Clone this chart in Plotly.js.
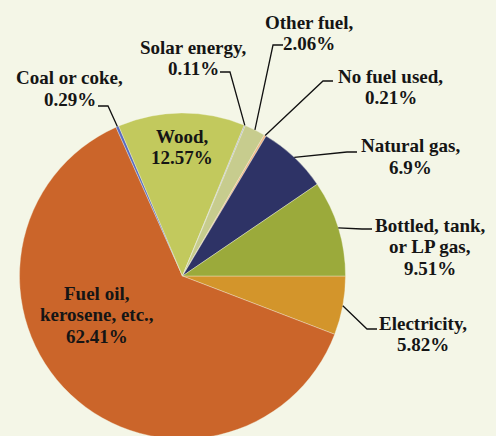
<!DOCTYPE html>
<html>
<head>
<meta charset="utf-8">
<script src="https://cdn.plot.ly/plotly-3.0.1.min.js"></script>
<style>
html,body{margin:0;padding:0;overflow:hidden;background:#F4F6E7;width:496px;height:436px;font-family:'Liberation Serif',serif;font-weight:bold;}
#chart{position:absolute;left:0;top:0;width:496px;height:446px;z-index:2;}
#chart .annotation-text{font-family:'Liberation Serif',serif !important;font-weight:bold !important;}
#fx{position:absolute;left:4px;top:410px;z-index:1;font-family:'Liberation Serif',serif;font-weight:bold;font-size:19px;color:#F4F6E7;line-height:1;}
</style>
</head>
<body>
<div id="fx">Wood, 0123456789%</div>
<div id="chart"></div>
<script>
// ---- data (slices in clockwise order from 3 o'clock) ----
const categories = ['Electricity', 'Fuel oil, kerosene, etc.', 'Coal or coke', 'Wood', 'Solar energy', 'Other fuel', 'No fuel used', 'Natural gas', 'Bottled, tank, or LP gas'];
const labelLines = [['Electricity,'], ['Fuel oil,', 'kerosene, etc.,'], ['Coal or coke,'], ['Wood,'], ['Solar energy,'], ['Other fuel,'], ['No fuel used,'], ['Natural gas,'], ['Bottled, tank,', 'or LP gas,']];
const shares = [5.82, 62.41, 0.29, 12.57, 0.11, 2.06, 0.21, 6.9, 9.51];
const sliceColors = ['#D3952B', '#CB652A', '#5A6BC0', '#C2C95D', '#A3A6C4', '#C7CC8E', '#F2B684', '#2E3366', '#9BAA3B'];

// ---- layout geometry (pixels) ----
const W = 496, H = 446;
const M = {l: 0, r: 0, t: 113, b: 7};
const R = (H - M.t - M.b) / 2;
const CX = 182.5;
const CY = M.t + R;
const LH = 21.5;
// label placement: x centre, y of first line, leader elbow and end
const place = [
  {tx: 423, ty: 323, elbow: [367, 329], end: [377, 329]},
  {tx: 97, ty: 293, inside: true},
  {tx: 69.5, ty: 78, elbow: [108, 106], end: [98, 106]},
  {tx: 182, ty: 136, inside: true},
  {tx: 193.5, ty: 47, elbow: [230, 72], end: [220, 72]},
  {tx: 309, ty: 22, elbow: [273, 45], end: [283, 45]},
  {tx: 390.5, ty: 76, elbow: [323, 81], end: [333, 81]},
  {tx: 410, ty: 145.5, elbow: [347, 152], end: [357, 152]},
  {tx: 430, ty: 225, elbow: [362, 229], end: [372, 229]}
];
const FONT = {family: 'Liberation Serif', size: 19, color: '#151515', weight: 'bold'};

const px2x = p => p / W;
const py2y = p => (H - M.b - p) / (H - M.t - M.b);

const total = shares.reduce((a, b) => a + b, 0);
let cum = 0;
const annotations = [];
const shapes = [];
shares.forEach((v, i) => {
  const mid = (cum + v / 2) / total * 2 * Math.PI; // clockwise from 3 o'clock
  cum += v;
  const p = place[i];
  const lines = labelLines[i].concat([v + '%']);
  lines.forEach((ln, k) => {
    annotations.push({
      xref: 'paper', yref: 'paper', x: px2x(p.tx), y: py2y(p.ty + k * LH),
      xanchor: 'center', yanchor: 'middle', showarrow: false,
      text: ln, font: FONT
    });
  });
  if (!p.inside) {
    const sx = CX + R * Math.cos(mid), sy = CY + R * Math.sin(mid);
    const path = 'M' + px2x(sx) + ',' + py2y(sy) + ' L' + px2x(p.elbow[0]) + ',' + py2y(p.elbow[1]) + ' L' + px2x(p.end[0]) + ',' + py2y(p.end[1]);
    shapes.push({type: 'path', xref: 'paper', yref: 'paper', path: path, line: {color: '#111111', width: 1.3}, layer: 'above'});
  }
});

const trace = {
  type: 'pie',
  labels: categories,
  values: shares,
  sort: false,
  direction: 'clockwise',
  rotation: 90,
  textinfo: 'none',
  hoverinfo: 'none',
  marker: {colors: sliceColors, line: {color: 'rgba(244,246,231,0.6)', width: 0.6}},
  domain: {x: [(CX - R) / W, (CX + R) / W], y: [0, 1]},
  showlegend: false
};

const layout = {
  width: W, height: H,
  margin: M,
  paper_bgcolor: '#F4F6E7',
  plot_bgcolor: '#F4F6E7',
  showlegend: false,
  font: FONT,
  annotations: annotations,
  shapes: shapes
};

Plotly.newPlot('chart', [trace], layout, {staticPlot: true, displayModeBar: false});
</script>
</body>
</html>
